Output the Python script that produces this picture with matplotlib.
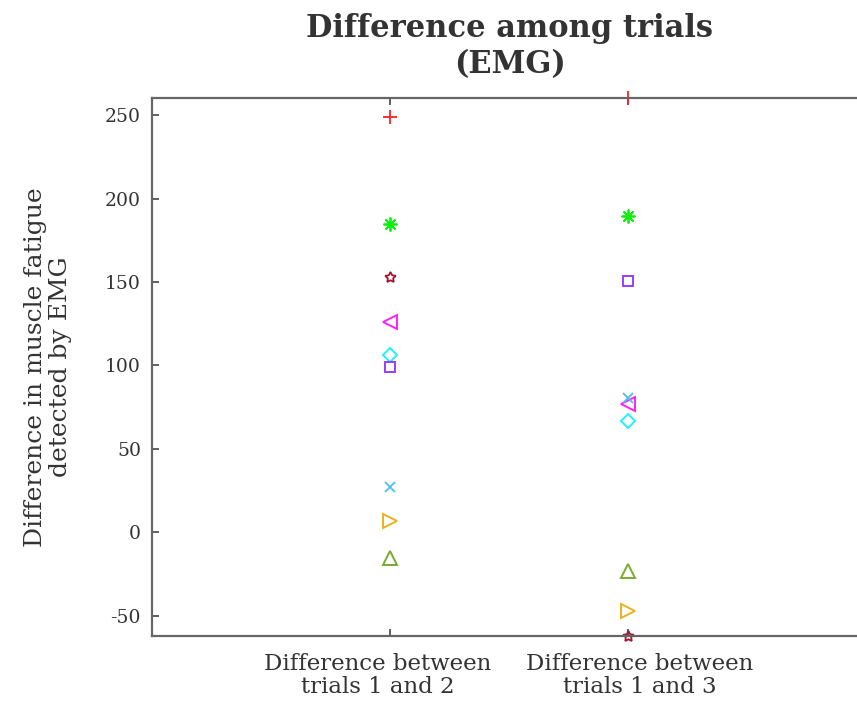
import matplotlib
matplotlib.use("Agg")
import matplotlib.pyplot as plt
from matplotlib.transforms import ScaledTranslation

categories = ["Difference between\ntrials 1 and 2", "Difference between\ntrials 1 and 3"]
yticks = [-50, 0, 50, 100, 150, 200, 250]

# one series per subject: (values for the two comparisons, marker, colour)
series_names = ["S1", "S2", "S3", "S4", "S5", "S6", "S7", "S8", "S9"]
series_values = [
    [248.8, 260.0],
    [184.7, 189.5],
    [153.0, -62.0],
    [126.0, 77.0],
    [106.0, 67.0],
    [99.0, 150.6],
    [27.0, 80.5],
    [7.0, -47.0],
    [-15.0, -23.0],
]
series_markers = ["+", "*", "*", "<", "D", "s", "x", ">", "^"]
series_colors = ["#ff2020", "#10ee10", "#a2142f", "#ff20ff", "#20f0ff",
                 "#9a3cff", "#4dbeee", "#edb120", "#77ac30"]

plt.rcParams["font.family"] = ["DejaVu Serif"]

fig = plt.figure(figsize=(8.57, 7.03), dpi=100)
ax = fig.add_axes([152 / 857, 67 / 703, 714 / 857, 538 / 703])

for name, vals, mk, col in zip(series_names, series_values, series_markers, series_colors):
    xs = [1, 2]
    if mk in ("+", "x"):
        ax.plot(xs, vals, linestyle="none", marker=mk, markersize=10 if mk == "+" else 7,
                color=col, markeredgewidth=1.3, clip_on=False, label=name)
    elif mk == "*":
        star = col == "#a2142f"
        ax.plot(xs, vals, linestyle="none", marker=(5, 1, 0) if star else (8, 2, 0),
                markersize=8 if star else 10,
                markerfacecolor="none" if star else col,
                markeredgecolor=col, markeredgewidth=1.3, clip_on=False, label=name)
    else:
        ax.plot(xs, vals, linestyle="none", marker=mk,
                markersize=7 if mk == "D" else 7.5 if mk == "s" else 9.5,
                markerfacecolor="none", markeredgecolor=col, markeredgewidth=1.4,
                clip_on=False, label=name)

ax.set_xlim(0, 3)
ax.set_ylim(-62, 260.2)
ax.set_xticks([1, 2])
ax.set_xticklabels(categories, fontsize=16.5, color="#333333", linespacing=1.05)
ax.set_yticks(yticks)
ax.set_yticklabels([str(v) for v in yticks], fontsize=13.5, color="#333333")
ax.tick_params(direction="in", top=True, right=False, length=5, width=1.2, color="#444444",
               pad=8)
ax.tick_params(axis="x", pad=12)

# spread the two category labels slightly apart
for lbl, dx in zip(ax.get_xticklabels(), [-12, 12]):
    lbl.set_transform(lbl.get_transform() + ScaledTranslation(dx / 100, 0, fig.dpi_scale_trans))

for s in ax.spines.values():
    s.set_color("#666666")
    s.set_linewidth(1.6)

ax.set_ylabel("Difference in muscle fatigue\ndetected by EMG", fontsize=18,
              color="#333333", labelpad=24, linespacing=1.1)
ax.set_title("Difference among trials\n(EMG)", fontsize=22, fontweight="bold",
             color="#333333", pad=18, linespacing=1.2, x=(510 - 152) / 714)

fig.savefig("out.png", dpi=100, facecolor="white")
